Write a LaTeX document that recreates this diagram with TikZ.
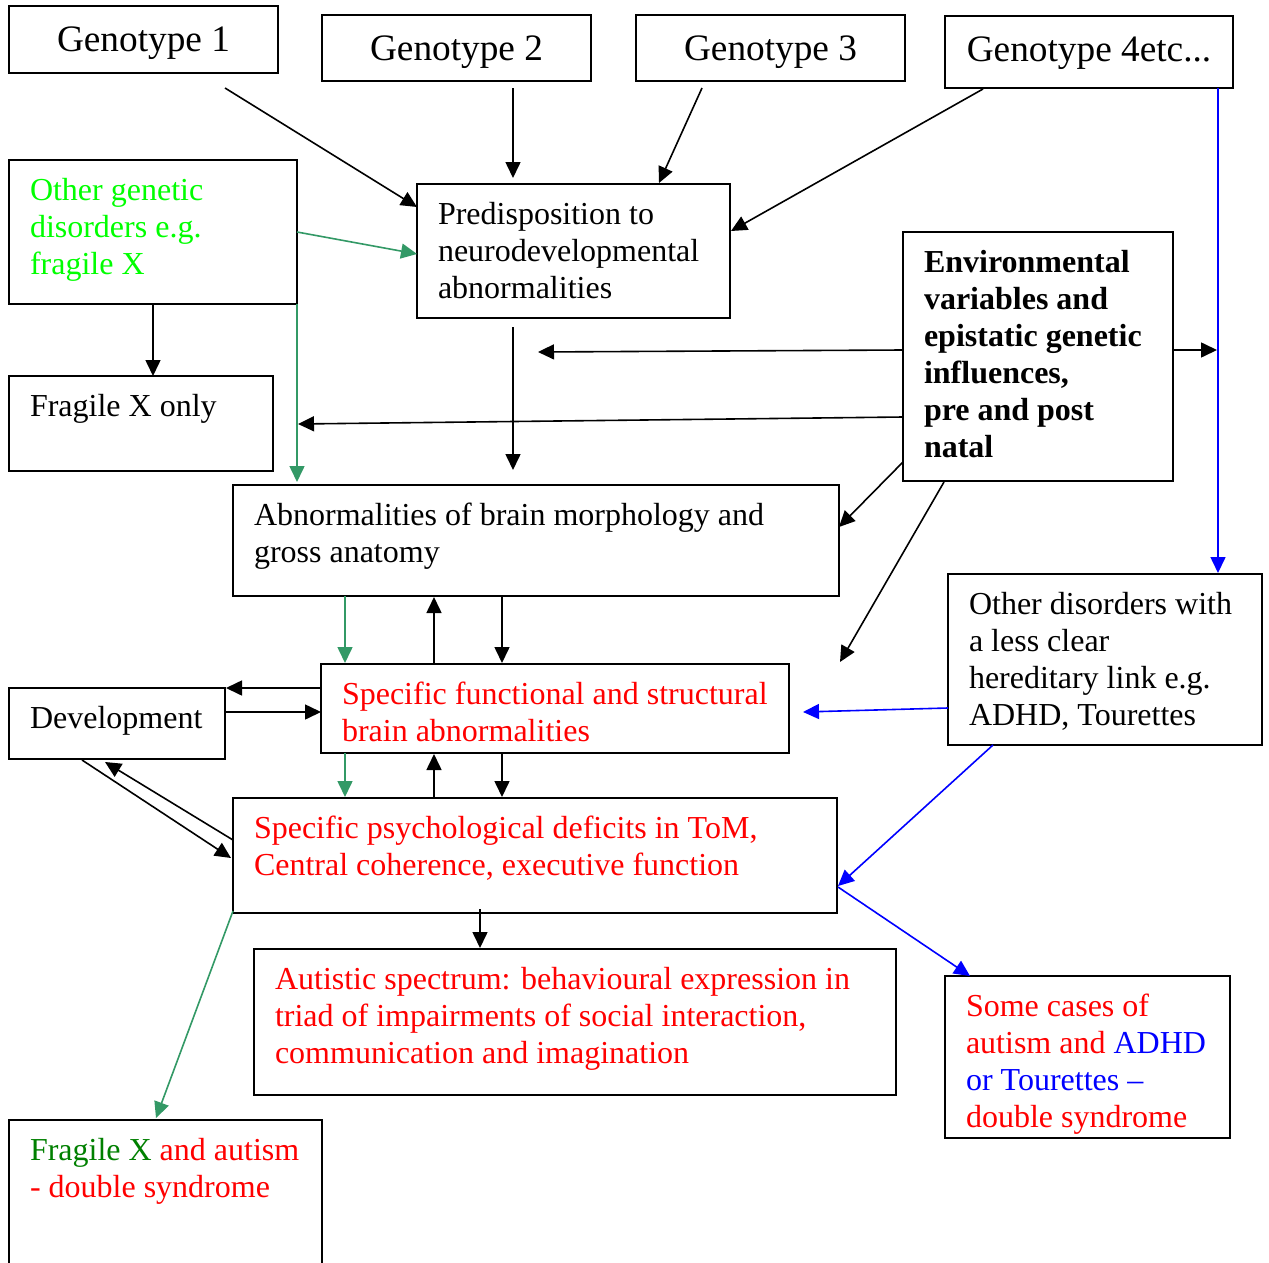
\documentclass[tikz,border=0pt]{standalone}
\usepackage{fontspec}
\setmainfont{Liberation Serif}
\usetikzlibrary{arrows.meta,calc}
\definecolor{brgreen}{RGB}{0,255,0}
\definecolor{dkgreen}{RGB}{0,128,0}
\definecolor{argreen}{RGB}{51,153,102}
\newcommand\bxt[3]{\parbox[t][\dimexpr#2pt-28pt\relax][t]{\dimexpr#1pt-42pt\relax}{\raggedright\fontsize{32}{37}\selectfont\rule{0pt}{26.5pt}#3}}
\tikzset{
  box/.style={draw, line width=1.9pt, anchor=north west, inner xsep=21pt, inner ysep=14pt, outer sep=0pt},
  gbox/.style={draw, line width=1.9pt, anchor=north west, inner sep=0pt, outer sep=0pt, text height=46pt, font=\fontsize{37.3}{43}\selectfont},
  arr/.style={-{Triangle[length=16pt,width=15pt]}, line width=1.6pt},
  garr/.style={arr, draw=argreen, fill=argreen},
  barr/.style={arr, draw=blue, fill=blue}
}
\begin{document}
\begin{tikzpicture}[x=1pt,y=-1pt]
\useasboundingbox (0,0) rectangle (1269,1263);
\clip (0,0) rectangle (1269,1263);
\fill[white] (0,0) rectangle (1269,1263);

% genotype boxes
\node[gbox, minimum width=269pt, text depth=21pt] (g1) at (9,6) {Genotype 1};
\node[gbox, minimum width=269pt, text depth=20pt] (g2) at (322,15) {Genotype 2};
\node[gbox, minimum width=269pt, text depth=20pt] (g3) at (636,15) {Genotype 3};
\node[gbox, minimum width=288pt, text depth=26pt] (g4) at (945,16) {Genotype 4etc...};

% text boxes
\node[box] (oth) at (9,160) {\bxt{288}{144}{\color{brgreen}Other genetic\\disorders e.g.\\fragile X}};
\node[box] (pred) at (417,184) {\bxt{313}{134}{Predisposition to\\neurodevelopmental\\abnormalities}};
\node[box] (env) at (903,232) {\bxt{270}{249}{\bfseries Environmental\\variables and\\epistatic genetic\\influences,\\pre and post\\natal}};
\node[box] (fxo) at (9,376) {\bxt{264}{95}{Fragile X only}};
\node[box] (abn) at (233,485) {\bxt{606}{111}{Abnormalities of brain morphology and\\gross anatomy}};
\node[box] (odis) at (948,574) {\bxt{314}{171}{Other disorders with\\a less clear\\hereditary link e.g.\\ADHD, Tourettes}};
\node[box] (dev) at (9,688) {\bxt{216}{71}{Development}};
\node[box] (sfun) at (321,664) {\bxt{468}{89}{\color{red}Specific functional and structural\\brain abnormalities}};
\node[box] (psy) at (233,798) {\bxt{604}{115}{\color{red}Specific psychological deficits in ToM,\\Central coherence, executive function}};
\node[box] (aut) at (254,949) {\bxt{642}{146}{\color{red}Autistic spectrum: behavioural expression in\\triad of impairments of social interaction,\\communication and imagination}};
\node[box] (some) at (945,976) {\bxt{285}{162}{\color{red}Some cases of\\autism and {\color{blue}ADHD}\\{\color{blue}or Tourettes –}\\double syndrome}};
\node[box] (fxa) at (9,1120) {\bxt{313}{200}{{\color{dkgreen}Fragile X} {\color{red}and autism}\\{\color{red}- double syndrome}}};

% black connectors
\draw[arr] ($(g1.north west)+(216,82)$) -- ($(pred.north west)+(0,23)$);
\draw[arr] ($(g2.north west)+(191,73)$) -- ($(pred.north west)+(96,-6)$);
\draw[arr] ($(g3.north west)+(66,73)$) -- ($(pred.north west)+(242,-1)$);
\draw[arr] ($(g4.north west)+(38,73)$) -- ($(pred.north west)+(314,47)$);
\draw[arr] ($(oth.north west)+(144,144)$) -- ($(fxo.north west)+(144,0)$);
\draw[arr] ($(env.north west)+(0,118)$) -- ($(pred.north west)+(121,168)$);
\draw[arr] ($(env.north west)+(0,185)$) -- ($(oth.south east)+(1,120)$);
\draw[arr] ($(pred.north west)+(96,143)$) -- ($(abn.north west)+(280,-15)$);
\draw[arr] ($(env.north west)+(270,118)$) -- ($(g4.south east)+(-16,262)$);
\draw[arr] ($(env.north west)+(0,230)$) -- ($(abn.north west)+(606,42)$);
\draw[arr] ($(env.north west)+(41,250)$) -- ($(sfun.north west)+(519,-2)$);
\draw[arr] ($(sfun.north west)+(113,0)$) -- ($(abn.north west)+(201,112)$);
\draw[arr] ($(abn.north west)+(269,111)$) -- ($(sfun.north west)+(181,-1)$);
\draw[arr] ($(sfun.north west)+(0,24)$) -- ($(dev.north west)+(217,0)$);
\draw[arr] ($(dev.north west)+(217,24)$) -- ($(sfun.north west)+(0,48)$);
\draw[arr] ($(psy.north west)+(201,-1)$) -- ($(sfun.north west)+(113,90)$);
\draw[arr] ($(sfun.north west)+(181,89)$) -- ($(psy.north west)+(269,-1)$);
\draw[arr] ($(dev.north west)+(73,72)$) -- ($(psy.north west)+(-2,60)$);
\draw[arr] ($(psy.north west)+(0,42)$) -- ($(dev.north west)+(96,74)$);
\draw[arr] ($(psy.north west)+(247,111)$) -- ($(aut.north west)+(226,-1)$);

% green connectors
\draw[garr] ($(oth.north west)+(288,72)$) -- ($(pred.north west)+(0,70)$);
\draw[garr] (oth.south east) -- ($(abn.north west)+(64,-3)$);
\draw[garr] ($(abn.north west)+(112,111)$) -- ($(sfun.north west)+(24,-1)$);
\draw[garr] ($(sfun.north west)+(24,89)$) -- ($(psy.north west)+(112,-1)$);
\draw[garr] ($(psy.north west)+(0,113)$) -- ($(fxa.north west)+(147,-2)$);

% blue connectors
\draw[barr] ($(g4.south east)+(-15,0)$) -- ($(odis.north west)+(270,-1)$);
\draw[barr] ($(odis.north west)+(0,134)$) -- ($(sfun.north west)+(482,48)$);
\draw[barr] ($(odis.north west)+(45,171)$) -- ($(psy.north west)+(605,88)$);
\draw[barr] ($(psy.north west)+(605,89)$) -- ($(some.north west)+(25,0)$);
\end{tikzpicture}
\end{document}
